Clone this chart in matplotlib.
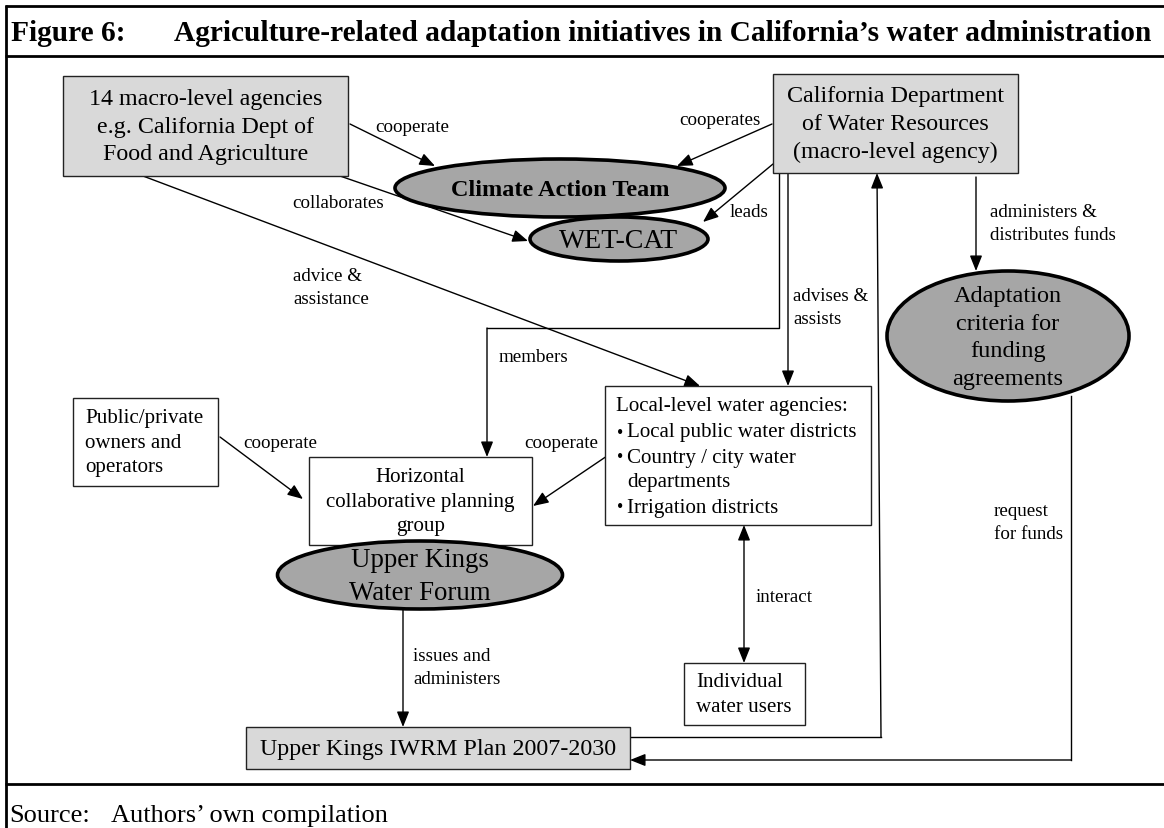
import matplotlib.pyplot as plt
from matplotlib.patches import Rectangle, Ellipse, FancyArrowPatch

plt.rcParams['font.family'] = ['Liberation Serif', 'DejaVu Serif']

# ---- texts of the figure ----
title_num = 'Figure 6:'
title_text = 'Agriculture-related adaptation initiatives in California\u2019s water administration'
source_key = 'Source:'
source_text = 'Authors\u2019 own compilation'

box_labels = [
    '14 macro-level agencies\ne.g. California Dept of\nFood and Agriculture',
    'California Department\nof Water Resources\n(macro-level agency)',
    'Public/private\nowners and\noperators',
    'Horizontal\ncollaborative planning\ngroup',
    'Individual\nwater users',
    'Upper Kings IWRM Plan 2007-2030',
]
ellipse_labels = ['Climate Action Team', 'WET-CAT', 'Upper Kings\nWater Forum',
                  'Adaptation\ncriteria for\nfunding\nagreements']
local_head = 'Local-level water agencies:'
local_items = ['Local public water districts', 'Country / city water\ndepartments',
               'Irrigation districts']
edge_labels = ['cooperate', 'collaborates', 'advice &\nassistance', 'cooperates', 'leads',
               'members', 'advises &\nassists', 'administers &\ndistributes funds',
               'request\nfor funds', 'cooperate', 'cooperate', 'interact',
               'issues and\nadministers', '']

# ---- layout (pixel coordinates, y down) ----
W, H = 1164, 829
GREY_BOX = '#d9d9d9'
GREY_ELL = '#a6a6a6'

# x0, y0, x1, y1, fill, fontsize(pt), align
box_layout = [
    (63, 77, 348, 177, GREY_BOX, 17.3, 'center'),
    (773, 75, 1018, 174, GREY_BOX, 17.3, 'center'),
    (73, 399, 218, 487, 'white', 15.1, 'left'),
    (309, 458, 532, 546, 'white', 15.1, 'center'),
    (684, 664, 805, 726, 'white', 15.1, 'left'),
    (246, 728, 630, 770, GREY_BOX, 17.3, 'center'),
]
# cx, cy, w, h, fontsize, bold, zorder
ellipse_layout = [
    (560, 189, 330, 58, 17.5, True, 6),
    (619, 240, 178, 44, 20.0, False, 5),
    (420, 576, 285, 68, 19.4, False, 5),
    (1008, 337, 242, 130, 17.5, False, 5),
]
local_box = (605, 387, 871, 526)

edge_paths = [
    [(350, 125), (435, 167)],
    [(340, 177), (528, 242)],
    [(143, 177), (700, 387)],
    [(772, 125), (677, 167)],
    [(773, 165), (703, 223)],
    [(779, 174), (779, 329), (487, 329), (487, 458)],
    [(788, 174), (788, 387)],
    [(976, 178), (976, 272)],
    [(1071, 397), (1071, 761), (630, 761)],
    [(220, 438), (303, 500)],
    [(607, 457), (533, 507)],
    [(744, 526), (744, 664)],
    [(403, 610), (403, 728)],
    [(630, 738), (881, 738), (877, 174)],
]
edge_both = [False] * 11 + [True] + [False, False]
label_pos = [(375, 127), (292, 203), (293, 288), (679, 120), (730, 212), (499, 357),
             (793, 308), (990, 224), (994, 523), (243, 444), (524, 444), (756, 597),
             (413, 668), (0, 0)]

fig = plt.figure(figsize=(W / 100, H / 100), dpi=100)
ax = fig.add_axes([0, 0, 1, 1])
ax.set_xlim(0, W)
ax.set_ylim(H, 0)
ax.axis('off')

# frame
frame_kw = dict(color='black', lw=2.0, solid_capstyle='butt', zorder=10)
ax.plot([5, W], [7, 7], **frame_kw)
ax.plot([5, W], [57, 57], **frame_kw)
ax.plot([5, W], [785, 785], **frame_kw)
ax.plot([6, 6], [6, H], **frame_kw)

ax.text(11, 33, title_num, fontsize=21.2, fontweight='bold', va='center', ha='left')
ax.text(174, 33, title_text, fontsize=21.2, fontweight='bold', va='center', ha='left')
ax.text(9, 816, source_key, fontsize=19, va='center', ha='left')
ax.text(111, 816, source_text, fontsize=19, va='center', ha='left')

# boxes
for (x0, y0, x1, y1, fill, fs, align), lab in zip(box_layout, box_labels):
    ax.add_patch(Rectangle((x0, y0), x1 - x0, y1 - y0, facecolor=fill,
                           edgecolor='#222222', lw=1.0, zorder=4))
    if align == 'center':
        ax.text((x0 + x1) / 2, (y0 + y1) / 2, lab, fontsize=fs, ha='center',
                va='center', multialignment='center', linespacing=1.4, zorder=7)
    else:
        ax.text(x0 + 12, (y0 + y1) / 2, lab, fontsize=fs, ha='left',
                va='center', multialignment='left', linespacing=1.4, zorder=7)

# local agencies box
lx0, ly0, lx1, ly1 = local_box
ax.add_patch(Rectangle((lx0, ly0), lx1 - lx0, ly1 - ly0, facecolor='white',
                       edgecolor='#222222', lw=1.0, zorder=4))
ax.text(lx0 + 11, ly0 + 20, local_head, fontsize=15.1, va='center', ha='left', zorder=7)
yy = ly0 + 46
for item in local_items:
    ax.text(lx0 + 15, yy, '\u2022', fontsize=13, va='center', ha='center', zorder=7)
    for part in item.split('\n'):
        ax.text(lx0 + 22, yy, part, fontsize=15.1, va='center', ha='left', zorder=7)
        yy += 25

# ellipses
for (cx, cy, w, h, fs, bold, z), lab in zip(ellipse_layout, ellipse_labels):
    ax.add_patch(Ellipse((cx, cy), w, h, facecolor=GREY_ELL, edgecolor='black',
                         lw=2.6, zorder=z))
    ax.text(cx, cy + 1, lab, fontsize=fs, ha='center', va='center', linespacing=1.4,
            fontweight='bold' if bold else 'normal', zorder=z + 0.5)

# arrows
for pts, both in zip(edge_paths, edge_both):
    xs = [p[0] for p in pts]
    ys = [p[1] for p in pts]
    if len(pts) > 2:
        ax.plot(xs[:-1], ys[:-1], color='black', lw=1.0, zorder=3)
    style = '<|-|>' if both else '-|>'
    ax.add_patch(FancyArrowPatch(pts[-2], pts[-1],
                                 arrowstyle=style + ',head_length=0.55,head_width=0.22',
                                 mutation_scale=17, color='black', lw=1.0,
                                 shrinkA=0, shrinkB=0, zorder=3))

for (x, y), lab in zip(label_pos, edge_labels):
    if lab:
        ax.text(x, y, lab, fontsize=13.7, ha='left', va='center', linespacing=1.45,
                zorder=8)

fig.savefig('out.png', dpi=100)
